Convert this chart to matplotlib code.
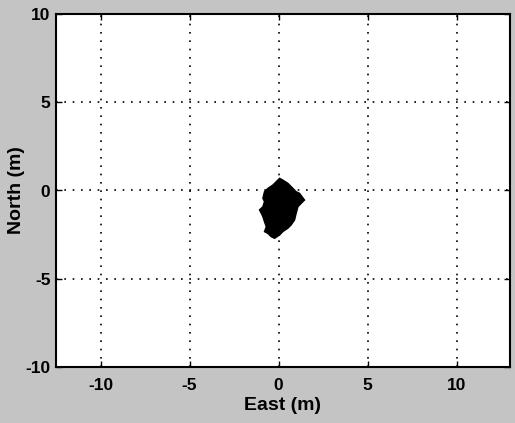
import matplotlib.pyplot as plt

# outline of the position scatter cloud (East, North) in metres
east = [0.06, 0.24, 0.52, 0.71, 0.99, 1.18, 1.46, 1.27, 1.09, 0.99, 0.90, 0.71,
        0.52, 0.24, 0.06, -0.22, -0.41, -0.60, -0.79, -0.69, -0.79, -0.88,
        -0.97, -1.07, -0.88, -0.79, -0.88, -0.79, -0.60, -0.32, -0.13]
north = [0.69, 0.59, 0.41, 0.22, -0.07, -0.16, -0.54, -0.73, -0.92, -1.29,
         -1.67, -1.95, -2.14, -2.33, -2.52, -2.71, -2.62, -2.43, -2.33, -2.05,
         -1.77, -1.48, -1.29, -1.10, -0.92, -0.63, -0.44, -0.07, 0.12, 0.31, 0.50]

xticks = [-10, -5, 0, 5, 10]
yticks = [-10, -5, 0, 5, 10]

plt.rcParams['font.family'] = ['Liberation Sans', 'DejaVu Sans']
plt.rcParams['font.weight'] = 'bold'
plt.rcParams['axes.unicode_minus'] = False

fig = plt.figure(figsize=(5.15, 4.23), dpi=100, facecolor='#c4c4c4')
ax = fig.add_axes([56 / 515, 1 - 367 / 423, (510 - 56) / 515, (367 - 14) / 423])
ax.set_facecolor('white')

ax.fill(east, north, color='black', zorder=3)

ax.set_xlim(-12.5, 13)
ax.set_ylim(-10, 10)
ax.set_xticks(xticks)
ax.set_yticks(yticks)
ax.grid(True, color='black', linestyle=(0, (1, 4)), linewidth=1.2)
ax.tick_params(direction='in', top=True, right=True, labelsize=12.5, length=4, width=1)
ax.tick_params(axis='x', pad=8)
ax.tick_params(axis='y', pad=4)
for lbl in ax.get_xticklabels() + ax.get_yticklabels():
    lbl.set_fontweight('bold')
for sp in ax.spines.values():
    sp.set_linewidth(1.5)

ax.set_xlabel('East (m)', fontsize=14, fontweight='bold', labelpad=3)
ax.set_ylabel('North (m)', fontsize=14, fontweight='bold', labelpad=0)

plt.savefig('out.png', dpi=100, facecolor=fig.get_facecolor())
